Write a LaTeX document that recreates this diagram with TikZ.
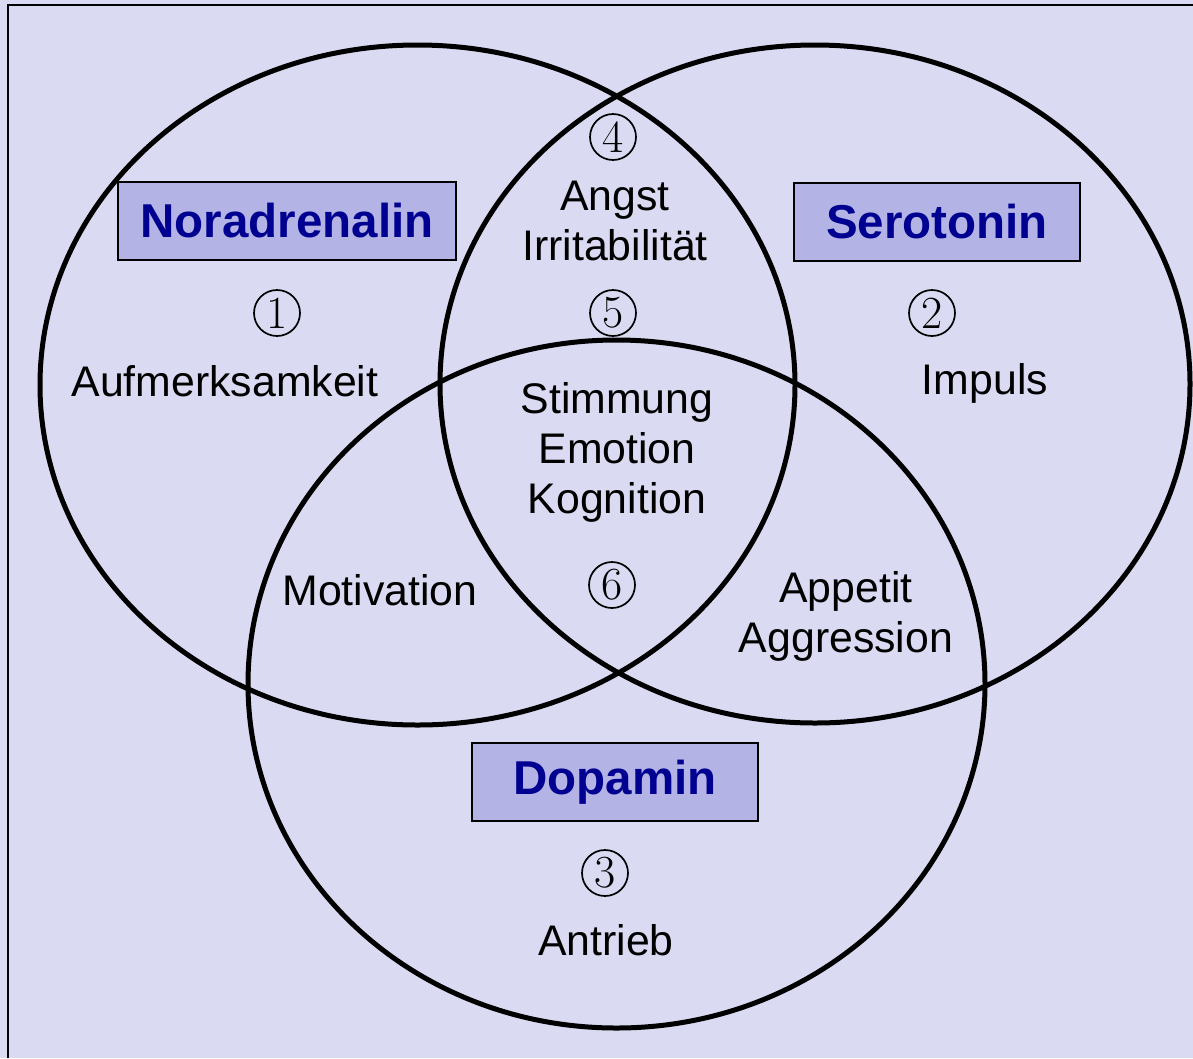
\documentclass[tikz,border=0pt]{standalone}
\usepackage{fontspec}
\setsansfont{Liberation Sans}
\definecolor{bg}{RGB}{218,218,242}
\definecolor{boxfill}{RGB}{179,179,230}
\definecolor{headblue}{RGB}{0,0,145}
\begin{document}
\begin{tikzpicture}[x=1pt,y=-1pt,
  lab/.style={font=\sffamily\fontsize{42.8}{50}\selectfont, align=center, inner sep=0pt},
  head/.style={draw=black, line width=1.5pt, fill=boxfill, text=headblue,
    font=\sffamily\bfseries\fontsize{47.5}{50}\selectfont, minimum height=78pt, inner sep=0pt},
  num/.style={circle, draw=black, line width=1.7pt, minimum size=46pt, inner sep=0pt,
    font=\rmfamily\fontsize{46}{46}\selectfont},
  venn/.style={draw=black, line width=5pt}]
\useasboundingbox (0,0) rectangle (1193,1058);
\fill[bg] (0,0) rectangle (1193,1058);
\draw[line width=2pt] (8,1058) -- (8,5) -- (1193,5);
% sets
\draw[venn] (417.5,385) ellipse [x radius=377.5, y radius=340];
\draw[venn] (815,384) ellipse [x radius=375, y radius=339];
\draw[venn] (616.5,684) ellipse [x radius=368.5, y radius=344];
% headings
\node[head, minimum width=338pt] (nor) at (287,221) {Noradrenalin};
\node[head, minimum width=286pt] (ser) at (937,222) {Serotonin};
\node[head, minimum width=286pt] (dop) at (615,782) {Dopamin};
% numbers
\node[num] (n1) at (277,313) {1};
\node[num] (n2) at (932,313) {2};
\node[num] (n3) at (605,873) {3};
\node[num] (n4) at (613,137) {4};
\node[num] (n5) at (613,313) {5};
\node[num] (n6) at (612,585) {6};
% labels
\node[lab] (auf) at (225,381) {Aufmerksamkeit};
\node[lab] (imp) at (985,383) {Impuls};
\node[lab] (ant) at (606,940) {Antrieb};
\node[lab] (ang) at (615,221) {Angst\\Irritabilität};
\node[lab] (sti) at (617,452) {Stimmung\\Emotion\\Kognition};
\node[lab] (mot) at (380,590) {Motivation};
\node[lab] (app) at (846,616) {Appetit\\Aggression};
\end{tikzpicture}
\end{document}
